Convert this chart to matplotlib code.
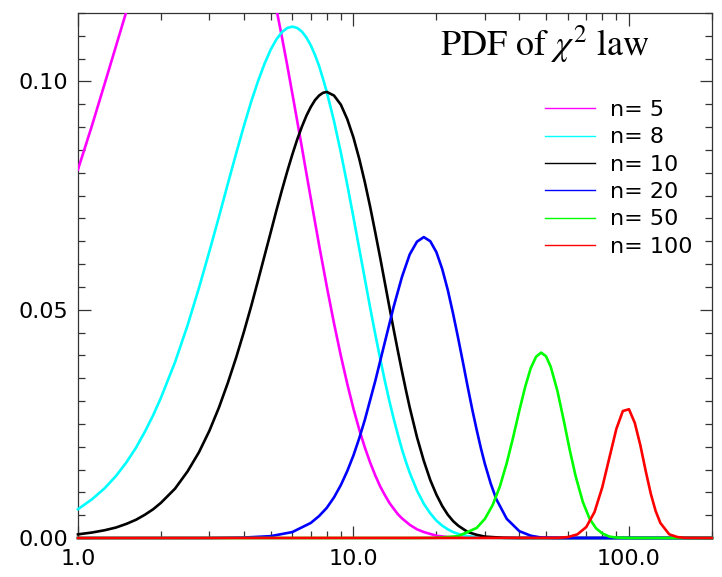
import numpy as np
import matplotlib
matplotlib.use("Agg")
import matplotlib.pyplot as plt
from matplotlib.lines import Line2D
from matplotlib.ticker import FixedLocator, FixedFormatter, NullFormatter

plt.rcParams['font.family'] = ['DejaVu Sans']
plt.rcParams['mathtext.fontset'] = 'stix'

# values, one list pair per curve
x_n5 = [1, 1.125, 1.25, 1.375, 1.5, 1.75, 2, 2.5, 3, 3.5, 4, 4.5, 5, 5.25, 5.5, 5.75, 6,
        6.25, 6.5, 6.75, 7, 7.25, 7.5, 7.75, 8, 8.5, 9, 9.5, 10, 10.5, 11, 11.5, 12,
        12.5, 13, 13.5, 14, 14.5, 15, 16, 17, 18, 20, 22, 24, 26, 30, 40, 200]
y_n5 = [0.0807, 0.0904, 0.0995, 0.1078, 0.1154, 0.1283, 0.1384, 0.1506, 0.1542, 0.1513,
        0.1440, 0.1338, 0.1220, 0.1159, 0.1097, 0.1035, 0.0973, 0.0913, 0.0855, 0.0798,
        0.0744, 0.0692, 0.0642, 0.0596, 0.0551, 0.0470, 0.0399, 0.0337, 0.0283, 0.0237,
        0.0198, 0.0165, 0.0137, 0.0113, 0.0094, 0.0077, 0.0064, 0.0052, 0.0043, 0.0029,
        0.0019, 0.0013, 0.0005, 0.0002, 0.0001, 0.00004, 0.0, 0.0, 0.0]

x_n8 = [1, 1.125, 1.25, 1.375, 1.5, 1.625, 1.75, 1.875, 2, 2.25, 2.5, 2.75, 3, 3.25,
        3.5, 3.75, 4, 4.25, 4.5, 4.75, 5, 5.25, 5.5, 5.75, 6, 6.25, 6.5, 6.75, 7, 7.25,
        7.5, 7.75, 8, 8.5, 9, 9.5, 10, 10.5, 11, 11.5, 12, 12.5, 13, 13.5, 14, 14.5, 15,
        15.5, 16, 17, 18, 19, 20, 21, 22, 23, 24, 26, 28, 30, 35, 40, 200]
y_n8 = [0.0063, 0.0085, 0.0109, 0.0136, 0.0166, 0.0198, 0.0233, 0.0269, 0.0307, 0.0385,
        0.0466, 0.0548, 0.0628, 0.0704, 0.0776, 0.0842, 0.0902, 0.0955, 0.1000, 0.1038,
        0.1069, 0.1092, 0.1108, 0.1117, 0.1120, 0.1117, 0.1109, 0.1096, 0.1079, 0.1058,
        0.1034, 0.1006, 0.0977, 0.0913, 0.0844, 0.0773, 0.0702, 0.0633, 0.0567, 0.0504,
        0.0446, 0.0393, 0.0344, 0.0300, 0.0261, 0.0226, 0.0194, 0.0167, 0.0143, 0.0104,
        0.0075, 0.0054, 0.0038, 0.0027, 0.0019, 0.0013, 0.0009, 0.0004, 0.0002, 0.0001,
        0.0, 0.0, 0.0]

x_n10 = x_n8
y_n10 = [0.0008, 0.0012, 0.0017, 0.0023, 0.0031, 0.0040, 0.0051, 0.0063, 0.0077, 0.0108,
         0.0146, 0.0188, 0.0235, 0.0286, 0.0340, 0.0395, 0.0451, 0.0507, 0.0563, 0.0617,
         0.0668, 0.0717, 0.0762, 0.0803, 0.0840, 0.0873, 0.0901, 0.0925, 0.0944, 0.0959,
         0.0969, 0.0975, 0.0977, 0.0969, 0.0949, 0.0917, 0.0877, 0.0830, 0.0779, 0.0725,
         0.0669, 0.0614, 0.0559, 0.0506, 0.0456, 0.0409, 0.0365, 0.0324, 0.0286, 0.0221,
         0.0169, 0.0127, 0.0095, 0.0070, 0.0051, 0.0037, 0.0027, 0.0013, 0.0007, 0.0003,
         0.00005, 0.0, 0.0]

x_n20 = [1, 3, 4, 5, 6, 7, 7.5, 8, 8.5, 9, 9.5, 10, 10.5, 11, 12, 13, 14, 15, 16, 17,
         18, 19, 20, 21, 22, 23, 24, 25, 26, 27, 28, 29, 30, 31.5, 33, 36, 40, 44, 48,
         52, 56, 60, 200]
y_n20 = [0.0, 0.00001, 0.0001, 0.0004, 0.0013, 0.0033, 0.0048, 0.0066, 0.0089, 0.0116,
         0.0147, 0.0181, 0.0219, 0.0259, 0.0344, 0.0429, 0.0507, 0.0572, 0.0621, 0.0649,
         0.0659, 0.0650, 0.0626, 0.0589, 0.0543, 0.0491, 0.0437, 0.0383, 0.0330, 0.0281,
         0.0237, 0.0197, 0.0162, 0.0119, 0.0085, 0.0042, 0.0015, 0.0005, 0.0001, 0.00004,
         0.00001, 0.0, 0.0]

x_n50 = [1, 16, 20, 24, 28, 30, 32, 34, 36, 38, 40, 42, 44, 46, 48, 50, 52, 55, 58, 61,
         64, 68, 72, 76, 80, 85, 90, 100, 200]
y_n50 = [0.0, 0.0, 0.00004, 0.0004, 0.0022, 0.0042, 0.0072, 0.0113, 0.0164, 0.0221,
         0.0279, 0.0331, 0.0372, 0.0397, 0.0406, 0.0398, 0.0375, 0.0322, 0.0257, 0.0192,
         0.0136, 0.0079, 0.0042, 0.0021, 0.0010, 0.0003, 0.0001, 0.00001, 0.0]

x_n100 = [1, 55, 60, 65, 70, 75, 80, 85, 90, 95, 100, 105, 110, 115, 120, 125, 130, 140,
          150, 160, 200]
y_n100 = [0.0, 0.00003, 0.0002, 0.0008, 0.0024, 0.0057, 0.0111, 0.0177, 0.0239, 0.0278,
          0.0282, 0.0252, 0.0203, 0.0147, 0.0097, 0.0059, 0.0033, 0.0008, 0.0002, 0.00003,
          0.0]

labels = ["n= 5", "n= 8", "n= 10", "n= 20", "n= 50", "n= 100"]
colors = ["#ff00ff", "#00ffff", "black", "#0000ff", "#00ff00", "#ff0000"]
series = [(x_n5, y_n5), (x_n8, y_n8), (x_n10, y_n10),
          (x_n20, y_n20), (x_n50, y_n50), (x_n100, y_n100)]

fig = plt.figure(figsize=(7.22, 5.77), dpi=100)
ax = fig.add_axes([0.108, 0.0676, 0.878, 0.91])

# only n=5 leaves the box (top), the others sit over the bottom axis line
for i, ((xs, ys), c) in enumerate(zip(series, colors)):
    ax.plot(xs, ys, color=c, lw=1.9, clip_on=(i == 0), zorder=3)

ax.set_xscale("log")
ax.set_xlim(1, 200)
ax.set_ylim(0, 0.115)

# ticks, inward on all four sides
ax.xaxis.set_major_locator(FixedLocator([1, 10, 100]))
ax.xaxis.set_major_formatter(FixedFormatter(["1.0", "10.0", "100.0"]))
ax.xaxis.set_minor_locator(FixedLocator([2, 3, 4, 5, 6, 7, 8, 9,
                                         20, 30, 40, 50, 60, 70, 80, 90, 200]))
ax.xaxis.set_minor_formatter(NullFormatter())
ax.set_yticks([0, 0.05, 0.10])
ax.set_yticklabels(["0.00", "0.05", "0.10"])
ax.set_yticks(np.arange(0, 0.1151, 0.005), minor=True)
ax.tick_params(which="both", direction="in", top=True, right=True,
               labelsize=16, width=0.9, colors="#333333", labelcolor="black")
ax.tick_params(which="major", length=9)
ax.tick_params(which="minor", length=5)
ax.tick_params(axis="x", pad=8)
ax.tick_params(axis="y", pad=7)
for sp in ax.spines.values():
    sp.set_linewidth(0.9)
    sp.set_color("#333333")

ax.text(0.902, 0.918, r"PDF of $\chi^2$ law", transform=ax.transAxes,
        ha="right", va="baseline", fontsize=26, family="STIXGeneral")

handles = [Line2D([], [], color=c, lw=1.0) for c in colors]
ax.legend(handles, labels, loc="upper left", bbox_to_anchor=(0.737, 0.834),
          frameon=False, fontsize=16, handlelength=2.25, handletextpad=0.68,
          labelspacing=0.33, borderpad=0, borderaxespad=0)

fig.savefig("out.png", dpi=100)
